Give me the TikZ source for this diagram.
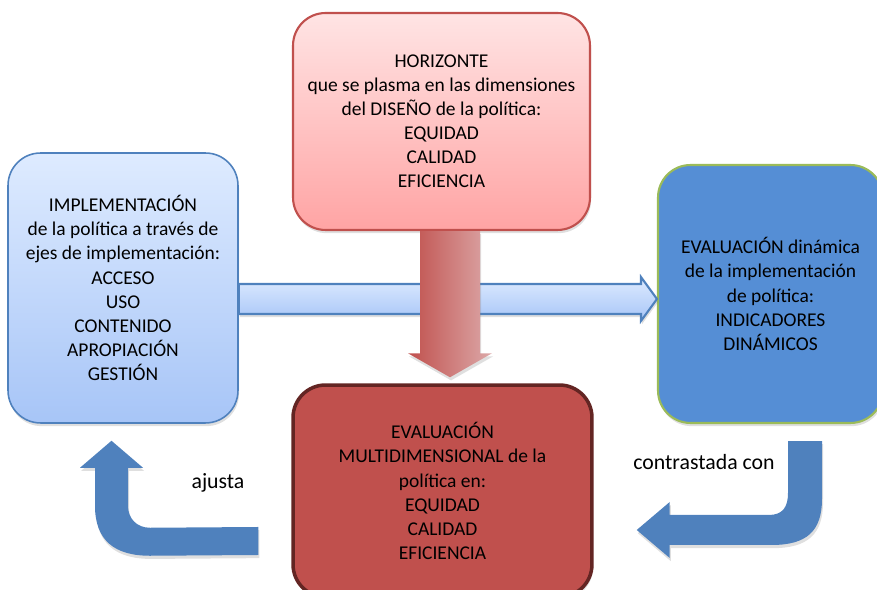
\documentclass[tikz,border=0pt]{standalone}
\usepackage{fontspec}
\setmainfont{Carlito}
\usepackage{tikz}
\usetikzlibrary{calc,shadows}
\definecolor{HorRed}{HTML}{C0504D}
\definecolor{HorTop}{HTML}{FFE4E4}
\definecolor{HorBottom}{HTML}{FFA4A4}
\definecolor{ImplBlue}{HTML}{4F81BD}
\definecolor{ImplTop}{HTML}{DEEBFF}
\definecolor{ImplBottom}{HTML}{A7C5F7}
\definecolor{EvdGreen}{HTML}{9BBB59}
\definecolor{EvdBlue}{HTML}{558ED5}
\definecolor{MultiRed}{HTML}{C0504D}
\definecolor{MultiDark}{HTML}{632523}
\definecolor{VarDark}{HTML}{C0504D}
\definecolor{VarLight}{HTML}{DCA8A8}

\begin{document}
\begin{tikzpicture}[
  x=0.02cm, y=-0.02cm,
  box/.style={draw, rounded corners=0.65cm, align=center, text=black,
              font=\fontsize{11.1}{13.7}\selectfont},
  boxshadow/.style={drop shadow={shadow xshift=0.6pt, shadow yshift=-1.8pt,
                                 opacity=0.25}},
  blockarrow/.style={draw=ImplBlue, line width=1.2pt,
                     top color=ImplTop, bottom color=ImplBottom, boxshadow},
  varrow/.style={left color=VarDark, right color=VarLight, boxshadow},
  bentarrow/.style={fill=ImplBlue, boxshadow},
  note/.style={font=\fontsize{12.4}{15}\selectfont}
]
  \useasboundingbox (0,0) rectangle (877,590);
  \clip (0,0) rectangle (877,590);

  % Boxes
  \node[box, boxshadow, draw=HorRed, line width=1.2pt, top color=HorTop,
        bottom color=HorBottom, minimum width=5.94cm, minimum height=4.34cm]
    (hor) at (441.5,121.5)
    {HORIZONTE\\que se plasma en las dimensiones\\del DISEÑO de la política:\\
     EQUIDAD\\CALIDAD\\EFICIENCIA};

  \node[box, boxshadow, draw=ImplBlue, line width=0.9pt, top color=ImplTop,
        bottom color=ImplBottom, minimum width=4.6cm, minimum height=5.4cm]
    (impl) at (123,288)
    {IMPLEMENTACIÓN\\de la política a través de\\ejes de implementación:\\
     ACCESO\\USO\\CONTENIDO\\APROPIACIÓN\\GESTIÓN};

  \node[box, boxshadow, draw=EvdGreen, line width=1.2pt, fill=EvdBlue,
        minimum width=4.5cm, minimum height=5.16cm]
    (evd) at (770.5,294)
    {EVALUACIÓN dinámica\\de la implementación\\de política:\\
     INDICADORES\\DINÁMICOS};

  \node[box, boxshadow, draw=MultiDark, line width=2pt, fill=MultiRed,
        minimum width=5.98cm, minimum height=4.24cm]
    (multi) at (442.5,491)
    {EVALUACIÓN\\MULTIDIMENSIONAL de la\\política en:\\
     EQUIDAD\\CALIDAD\\EFICIENCIA};

  % Implementation -> dynamic evaluation
  \coordinate (ha) at ($(impl.east)+(0,11)$);
  \coordinate (hb) at ($(evd.west)+(0,5)$);
  \draw[blockarrow] ($(ha)+(0,-15)$) -- ($(hb)+(-16,-15)$) -- ($(hb)+(-16,-22)$)
    -- (hb) -- ($(hb)+(-16,22)$) -- ($(hb)+(-16,15)$) -- ($(ha)+(0,15)$) -- cycle;

  % Horizon -> multidimensional evaluation
  \coordinate (va) at ($(hor.south)+(8.5,0)$);
  \coordinate (vb) at ($(multi.north)+(7.5,-6)$);
  \path[varrow] ($(va)+(-30,0)$) -- ($(vb)+(-30,-24)$) -- ($(vb)+(-42,-24)$)
    -- (vb) -- ($(vb)+(42,-24)$) -- ($(vb)+(30,-24)$) -- ($(va)+(30,0)$) -- cycle;

  % Multidimensional evaluation -> implementation
  \coordinate (ajs) at ($(multi.west)+(-33,50)$);
  \coordinate (ajt) at ($(impl.south)+(-11.5,17)$);
  \path[bentarrow] ($(ajs)+(0,-14)$) -- ($(ajt)+(38.5,87)$)
    .. controls +(-13,0) and +(0,13) .. ($(ajt)+(16.5,65)$)
    -- ($(ajt)+(16.5,27)$) -- ($(ajt)+(31.5,27)$) -- (ajt)
    -- ($(ajt)+(-31.5,27)$) -- ($(ajt)+(-16.5,27)$) -- ($(ajt)+(-16.5,65)$)
    .. controls +(0,35) and +(-35,0) .. ($(ajt)+(38.5,115)$)
    -- ($(ajs)+(0,14)$) -- cycle;
  \node[note] (ajl) at (218,483) {ajusta};

  % Dynamic evaluation -> multidimensional evaluation
  \coordinate (cts) at ($(evd.south)+(34.5,17)$);
  \coordinate (ctt) at ($(multi.east)+(43,39)$);
  \path[bentarrow] ($(cts)+(-17,0)$) -- ($(cts)+(17,0)$) -- ($(cts)+(17,58)$)
    .. controls +(0,32) and +(35,0) .. ($(ctt)+(135,15)$)
    -- ($(ctt)+(33,15)$) -- ($(ctt)+(33,28)$) -- (ctt)
    -- ($(ctt)+(33,-28)$) -- ($(ctt)+(33,-15)$) -- ($(ctt)+(132,-15)$)
    .. controls +(14,0) and +(0,14) .. ($(cts)+(-17,52)$) -- cycle;
  \node[note] (ctl) at (704,462) {contrastada con};
\end{tikzpicture}
\end{document}
